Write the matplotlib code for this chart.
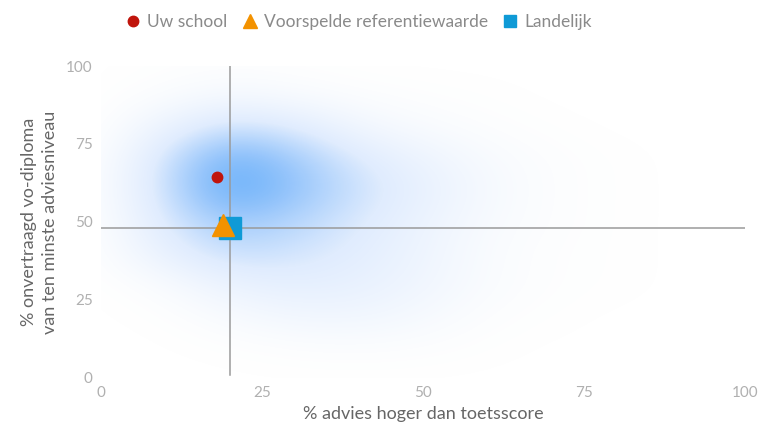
import numpy as np
import matplotlib.pyplot as plt
from matplotlib.colors import LinearSegmentedColormap
from matplotlib.lines import Line2D

plt.rcParams['font.family'] = ['Lato', 'DejaVu Sans']

grid_x = [0, 10, 20, 30, 40, 50, 60, 70, 80, 90, 100]
grid_y = [100, 90, 80, 70, 60, 50, 40, 30, 20, 10, 0]
density = [
    [0.00, 0.01, 0.02, 0.01, 0.00, 0.00, 0.00, 0.00, 0.00, 0.00, 0.00],
    [0.00, 0.05, 0.12, 0.08, 0.04, 0.02, 0.01, 0.00, 0.00, 0.00, 0.00],
    [0.00, 0.22, 0.45, 0.35, 0.15, 0.07, 0.03, 0.01, 0.00, 0.00, 0.00],
    [0.01, 0.40, 0.85, 0.62, 0.35, 0.20, 0.08, 0.03, 0.01, 0.00, 0.00],
    [0.02, 0.42, 0.92, 0.68, 0.42, 0.25, 0.10, 0.03, 0.01, 0.00, 0.00],
    [0.01, 0.35, 0.62, 0.52, 0.35, 0.20, 0.08, 0.03, 0.01, 0.00, 0.00],
    [0.01, 0.25, 0.45, 0.40, 0.30, 0.18, 0.06, 0.02, 0.01, 0.00, 0.00],
    [0.00, 0.06, 0.22, 0.28, 0.25, 0.16, 0.06, 0.02, 0.01, 0.00, 0.00],
    [0.00, 0.01, 0.08, 0.15, 0.16, 0.10, 0.03, 0.01, 0.00, 0.00, 0.00],
    [0.00, 0.00, 0.01, 0.03, 0.04, 0.03, 0.01, 0.00, 0.00, 0.00, 0.00],
    [0.00, 0.00, 0.00, 0.00, 0.00, 0.00, 0.00, 0.00, 0.00, 0.00, 0.00],
]

# punten
school = (18, 64.5)
voorspeld = (19, 49)
landelijk = (20, 48)

ticks = [0, 25, 50, 75, 100]

fig = plt.figure(figsize=(7.62, 4.22), dpi=100)
ax = fig.add_axes([0.1325, 0.1043, 0.845, 0.7393])

cmap = LinearSegmentedColormap.from_list('blauw', ['#ffffff', '#e0ecfe', '#94c4fb', '#4ba2f8'])
ax.imshow(np.array(density), cmap=cmap, vmin=0, vmax=1, interpolation='bicubic',
          extent=[grid_x[0] - 5, grid_x[-1] + 5, grid_y[-1] - 5, grid_y[0] + 5],
          aspect='auto', zorder=0)

ax.axvline(landelijk[0], ymin=0.01, ymax=1, color='#9a9a9a', lw=1.1, zorder=1)
ax.axhline(landelijk[1], color='#9a9a9a', lw=1.1, zorder=1)

ax.plot(*landelijk, marker='s', ms=16, color='#0f9ad6', ls='none', zorder=2)
ax.plot(*voorspeld, marker='^', ms=16, color='#f39200', ls='none', zorder=3)
ax.plot(*school, marker='o', ms=7.5, color='#c0150c', ls='none', zorder=4)

ax.set_xlim(0, 100)
ax.set_ylim(0, 100)
ax.set_xticks(ticks)
ax.set_yticks(ticks)
ax.tick_params(length=0, colors='#b0b0b0', labelsize=11)
ax.tick_params(axis='x', pad=6)
ax.tick_params(axis='y', pad=6)
for s in ax.spines.values():
    s.set_visible(False)

ax.set_xlabel('% advies hoger dan toetsscore', fontsize=13, color='#666666', labelpad=4)
ax.set_ylabel('% onvertraagd vo-diploma\nvan ten minste adviesniveau', fontsize=13,
              color='#666666', labelpad=6, linespacing=1.35)

handles = [
    Line2D([], [], marker='o', ms=7.5, color='#c0150c', ls='none'),
    Line2D([], [], marker='^', ms=10, color='#f39200', ls='none'),
    Line2D([], [], marker='s', ms=8, color='#0f9ad6', ls='none'),
]
fig.legend(handles, ['Uw school', 'Voorspelde referentiewaarde', 'Landelijk'],
           loc='center', bbox_to_anchor=(0.47, 0.948), ncol=3, frameon=False,
           fontsize=12.5, labelcolor='#8a8a8a', handletextpad=0.3,
           columnspacing=0.8, handlelength=1.0)

fig.savefig('out.png', dpi=100)
